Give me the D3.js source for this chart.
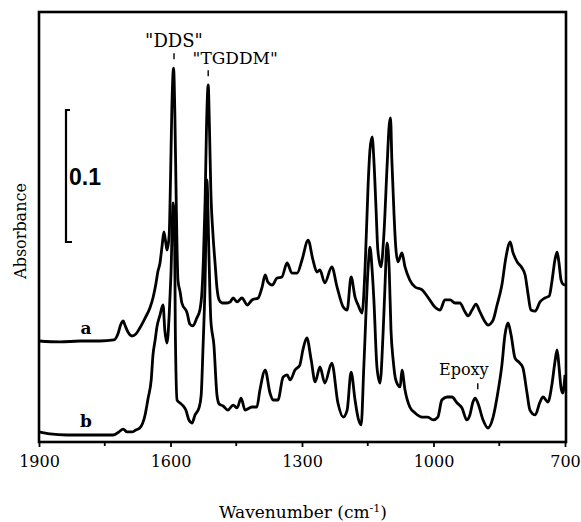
<!DOCTYPE html>
<meta charset="utf-8">
<script src="https://d3js.org/d3.v7.min.js"></script>
<style>
    body { margin: 0; background: #fff; }
    text { font-family: "DejaVu Serif", serif; fill: #000; }
    .spec { fill: none; stroke: #000; stroke-width: 2.8; stroke-linejoin: round; }
</style>
<svg id="chart"></svg>
<script>
    // spectrum a (upper trace) : wavenumber / absorbance
    var wnA = [1900, 1852, 1806, 1761, 1729, 1720, 1713, 1708, 1704, 1697, 1688, 1679, 1670, 1658, 1647, 1640, 1633, 1629, 1624, 1619, 1615, 1610, 1608, 1603, 1600, 1597, 1593, 1590, 1587, 1585, 1583, 1578, 1574, 1562, 1556, 1549, 1540, 1533, 1528, 1525, 1521, 1518, 1514, 1511, 1508, 1503, 1498, 1494, 1489, 1482, 1473, 1464, 1457, 1448, 1437, 1425, 1414, 1400, 1391, 1384, 1378, 1368, 1357, 1346, 1334, 1323, 1311, 1300, 1286, 1275, 1266, 1259, 1248, 1232, 1220, 1206, 1197, 1188, 1179, 1172, 1163, 1156, 1149, 1145, 1140, 1136, 1131, 1127, 1120, 1113, 1106, 1101, 1098, 1095, 1090, 1086, 1081, 1072, 1065, 1054, 1042, 1026, 1013, 997, 985, 974, 962, 951, 940, 928, 921, 912, 903, 894, 882, 876, 864, 855, 844, 835, 825, 819, 809, 798, 791, 784, 778, 768, 757, 746, 736, 730, 723, 718, 714, 709, 705, 700];
    var absA = [0.0765, 0.0758, 0.0765, 0.0765, 0.0773, 0.0818, 0.0894, 0.0917, 0.0886, 0.0833, 0.0803, 0.0818, 0.0864, 0.0939, 0.1015, 0.1091, 0.1205, 0.1288, 0.1356, 0.1492, 0.1591, 0.1492, 0.1455, 0.1568, 0.1985, 0.2515, 0.2833, 0.2477, 0.1833, 0.1455, 0.1227, 0.1136, 0.1053, 0.0977, 0.0894, 0.0879, 0.0939, 0.1000, 0.1152, 0.1379, 0.1833, 0.2364, 0.2705, 0.2364, 0.1909, 0.1568, 0.1341, 0.1167, 0.1076, 0.1053, 0.1053, 0.1061, 0.1091, 0.1061, 0.1091, 0.1038, 0.1076, 0.1091, 0.1174, 0.1265, 0.1212, 0.1189, 0.1242, 0.1250, 0.1356, 0.1280, 0.1280, 0.1379, 0.1530, 0.1379, 0.1288, 0.1303, 0.1205, 0.1326, 0.1174, 0.1023, 0.1000, 0.1250, 0.1098, 0.1038, 0.0977, 0.1326, 0.1962, 0.2212, 0.2311, 0.2136, 0.1758, 0.1455, 0.1326, 0.1583, 0.2083, 0.2402, 0.2455, 0.2136, 0.1720, 0.1470, 0.1364, 0.1432, 0.1326, 0.1227, 0.1174, 0.1152, 0.1098, 0.1023, 0.1000, 0.1076, 0.1076, 0.1053, 0.1053, 0.0985, 0.0955, 0.1000, 0.1045, 0.0985, 0.0909, 0.0886, 0.0924, 0.1038, 0.1189, 0.1394, 0.1515, 0.1439, 0.1364, 0.1318, 0.1265, 0.1114, 0.1000, 0.0992, 0.1061, 0.1091, 0.1106, 0.1212, 0.1379, 0.1439, 0.1364, 0.1227, 0.1197, 0.1189];

    // spectrum b (lower trace)
    var wnB = [1900, 1875, 1836, 1784, 1731, 1718, 1708, 1699, 1688, 1679, 1670, 1658, 1651, 1644, 1640, 1635, 1631, 1624, 1617, 1613, 1608, 1603, 1599, 1594, 1591, 1589, 1585, 1578, 1571, 1565, 1558, 1551, 1544, 1535, 1530, 1526, 1521, 1517, 1512, 1508, 1501, 1494, 1489, 1480, 1469, 1457, 1448, 1439, 1430, 1414, 1403, 1396, 1384, 1373, 1366, 1355, 1343, 1334, 1327, 1316, 1305, 1298, 1289, 1279, 1270, 1259, 1248, 1232, 1218, 1206, 1197, 1188, 1179, 1172, 1165, 1159, 1149, 1145, 1140, 1136, 1129, 1122, 1115, 1111, 1106, 1101, 1097, 1092, 1086, 1076, 1072, 1065, 1054, 1042, 1026, 1013, 1001, 990, 981, 969, 958, 946, 935, 924, 917, 910, 905, 898, 887, 876, 864, 853, 844, 837, 830, 823, 814, 803, 796, 787, 780, 768, 757, 750, 739, 730, 723, 718, 714, 709, 705, 700];
    var absB = [0.0076, 0.0061, 0.0053, 0.0053, 0.0053, 0.0076, 0.0098, 0.0076, 0.0076, 0.0091, 0.0106, 0.0205, 0.0333, 0.0470, 0.0659, 0.0773, 0.0871, 0.0962, 0.1038, 0.0848, 0.0750, 0.0962, 0.1265, 0.1811, 0.1720, 0.0848, 0.0318, 0.0295, 0.0273, 0.0242, 0.0167, 0.0144, 0.0205, 0.0258, 0.0356, 0.0697, 0.1227, 0.1985, 0.1379, 0.0924, 0.0735, 0.0356, 0.0288, 0.0273, 0.0242, 0.0280, 0.0258, 0.0333, 0.0242, 0.0265, 0.0265, 0.0394, 0.0545, 0.0371, 0.0318, 0.0318, 0.0492, 0.0508, 0.0470, 0.0545, 0.0583, 0.0697, 0.0788, 0.0621, 0.0455, 0.0568, 0.0447, 0.0598, 0.0295, 0.0189, 0.0242, 0.0530, 0.0318, 0.0182, 0.0129, 0.0568, 0.1326, 0.1477, 0.1303, 0.1076, 0.0568, 0.0447, 0.0826, 0.1152, 0.1508, 0.1303, 0.0848, 0.0621, 0.0470, 0.0417, 0.0545, 0.0394, 0.0265, 0.0220, 0.0189, 0.0189, 0.0167, 0.0189, 0.0318, 0.0341, 0.0341, 0.0295, 0.0258, 0.0167, 0.0205, 0.0303, 0.0333, 0.0288, 0.0167, 0.0106, 0.0189, 0.0379, 0.0583, 0.0811, 0.0902, 0.0811, 0.0636, 0.0598, 0.0561, 0.0379, 0.0242, 0.0205, 0.0303, 0.0341, 0.0303, 0.0432, 0.0606, 0.0697, 0.0583, 0.0409, 0.0371, 0.0508];

    var majorTicks = [1900, 1600, 1300, 1000, 700];
    var minorTicks = [1750, 1450, 1150, 850];

    // peak labels (text, wavenumber of marker, absorbance of marker)
    var peakNames = ['"DDS"', '"TGDDM"', "Epoxy"];
    var peakWn = [1592, 1514, 899];
    var peakAbs = [0.290, 0.277, 0.040];

    var width = 581, height = 522;
    var plot = {left: 39, right: 566, top: 12, bottom: 442};

    var svg = d3.select("#chart")
        .attr("width", width)
        .attr("height", height);

    var x = d3.scaleLinear().domain([1900, 700]).range([plot.left, 565]);
    var y = d3.scaleLinear().domain([0, 0.33]).range([plot.bottom, plot.bottom - 0.33 * 1320]);

    // frame
    svg.append("rect")
        .attr("x", plot.left).attr("y", plot.top)
        .attr("width", plot.right - plot.left)
        .attr("height", plot.bottom - plot.top)
        .attr("fill", "none").attr("stroke", "#000").attr("stroke-width", 2.6);

    // bottom axis
    var axis = svg.append("g")
        .attr("transform", "translate(0," + plot.bottom + ")")
        .call(d3.axisBottom(x).tickValues(majorTicks).tickSize(5).tickPadding(9).tickFormat(d3.format("d")));
    axis.select(".domain").remove();
    axis.selectAll("line").attr("stroke-width", 1.8);
    axis.selectAll("text").style("font-family", "DejaVu Serif").style("font-size", "16px");

    svg.append("g").selectAll("line")
        .data(minorTicks).enter().append("line")
        .attr("x1", d => x(d)).attr("x2", d => x(d))
        .attr("y1", plot.bottom).attr("y2", plot.bottom + 4)
        .attr("stroke", "#000").attr("stroke-width", 1.8);

    // spectra
    var line = d3.line()
        .x(d => x(d[0]))
        .y(d => y(d[1]))
        .curve(d3.curveMonotoneX);

    svg.append("path").attr("class", "spec").attr("d", line(d3.zip(wnA, absA)));
    svg.append("path").attr("class", "spec").attr("d", line(d3.zip(wnB, absB)));

    // trace labels
    svg.append("text").attr("x", x(1793)).attr("y", y(0.082))
        .attr("text-anchor", "middle").style("font-weight", "bold").style("font-size", "17px").text("a");
    svg.append("text").attr("x", x(1793)).attr("y", y(0.011))
        .attr("text-anchor", "middle").style("font-weight", "bold").style("font-size", "17px").text("b");

    // scale bar 0.1
    var barX = 66, barTop = 110;
    svg.append("path")
        .attr("d", "M" + (barX + 4) + "," + barTop + "H" + barX + "V" + (barTop + y(0) - y(0.1)) + "H" + (barX + 6))
        .attr("fill", "none").attr("stroke", "#000").attr("stroke-width", 2.2);
    svg.append("text").attr("x", 69).attr("y", 185)
        .style("font-family", "Liberation Sans").style("font-weight", "bold").style("font-size", "23px")
        .text("0.1");

    // peak annotations
    var labelDy = [-12, -12, -14];
    var sizes = [18, 17, 16];
    var labelShift = [0, 27, -14];
    peakNames.forEach(function(name, i) {
        var px = x(peakWn[i]), py = y(peakAbs[i]);
        svg.append("line")
            .attr("x1", px).attr("x2", px)
            .attr("y1", py - 6).attr("y2", py)
            .attr("stroke", "#000").attr("stroke-width", 1.4);
        svg.append("text")
            .attr("x", px + labelShift[i])
            .attr("y", py + labelDy[i])
            .attr("text-anchor", "middle")
            .style("font-size", sizes[i] + "px")
            .text(name);
    });

    // axis titles
    var xt = svg.append("text").attr("x", 303).attr("y", 518)
        .attr("text-anchor", "middle").style("font-size", "17px");
    xt.append("tspan").text("Wavenumber (cm");
    xt.append("tspan").attr("dy", -6).style("font-size", "11px").text("-1");
    xt.append("tspan").attr("dy", 6).text(")");

    svg.append("text")
        .attr("transform", "translate(26,231) rotate(-90)")
        .attr("text-anchor", "middle").style("font-size", "16px")
        .text("Absorbance");
</script>
